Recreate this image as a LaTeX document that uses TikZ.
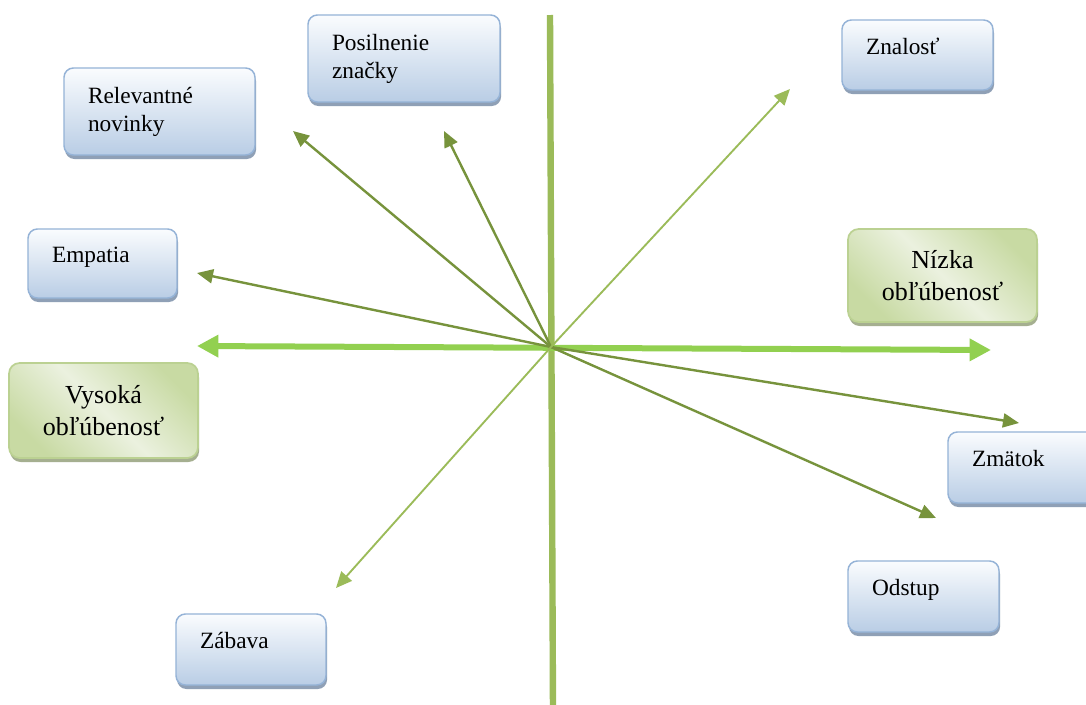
\documentclass[tikz,border=0pt]{standalone}
\usepackage{fontspec}
\setmainfont{Liberation Serif}
\usetikzlibrary{arrows.meta,shadows}
\definecolor{bBorder}{HTML}{95B3D7}
\definecolor{bTop}{HTML}{FAFCFE}
\definecolor{bBot}{HTML}{B9CDE5}
\definecolor{bShadow}{HTML}{8FA0B6}
\definecolor{gBorder}{HTML}{BBD192}
\definecolor{gLight}{HTML}{EBF1DF}
\definecolor{gDark}{HTML}{C8DAA3}
\definecolor{gShadow}{HTML}{A5AF90}
\definecolor{vAxis}{HTML}{9BBB59}
\definecolor{hAxis}{HTML}{92D050}
\definecolor{darkArr}{HTML}{77933C}
\definecolor{lightArr}{HTML}{9BBB59}
\tikzset{
  bluebox/.style={draw=bBorder, line width=1.1pt, rounded corners=7pt,
    top color=bTop, bottom color=bBot,
    drop shadow={shadow xshift=0.8pt, shadow yshift=-3pt, fill=bShadow, opacity=1},
    font=\fontsize{17.5}{21}\selectfont, align=left, inner xsep=18pt, inner ysep=0pt},
  oneline/.style={text height=12pt, text depth=13.2pt},
  greenbox/.style={draw=gBorder, line width=1.3pt, rounded corners=8pt,
    left color=gDark, right color=gDark, middle color=gLight, shading angle=135,
    drop shadow={shadow xshift=0.8pt, shadow yshift=-3pt, fill=gShadow, opacity=1},
    font=\fontsize{19.5}{23.5}\selectfont, align=center, inner xsep=6pt, inner ysep=0pt,
    text width=129.75pt},
  vaxisline/.style={draw=vAxis, line width=4.8pt},
  haxisline/.style={draw=hAxis, line width=4.5pt,
    {Triangle[length=16pt,width=16pt]}-{Triangle[length=16pt,width=16pt]}},
  darkarrow/.style={draw=darkArr, line width=1.8pt, -{Triangle[length=12pt,width=10.5pt]}},
  lightarrow/.style={draw=lightArr, line width=1.4pt, -{Triangle[length=12pt,width=10.5pt]}}
}
\begin{document}
\begin{tikzpicture}[x=0.75pt,y=-0.75pt]
\clip (0,0) rectangle (1086,704);
\fill[white] (0,0) rectangle (1086,704);

% boxes
\node[bluebox, text width=108pt, minimum height=65.25pt] (posil) at (404,58.5) {Posilnenie\\značky};
\node[bluebox, text width=107.25pt, minimum height=65.25pt] (relev) at (159.5,111.5) {Relevantné\\novinky};
\node[bluebox, oneline, text width=75.75pt, minimum height=51.75pt] (empat) at (102.5,263.5) {Empatia};
\node[bluebox, oneline, text width=77.25pt, minimum height=52.5pt] (znal) at (917.5,55) {Znalosť};
\node[bluebox, oneline, text width=76.5pt, minimum height=53.25pt] (zmat) at (1023,467.5) {Zmätok};
\node[bluebox, oneline, text width=77.25pt, minimum height=53.25pt] (odst) at (923.5,596.5) {Odstup};
\node[bluebox, oneline, text width=76.5pt, minimum height=53.25pt] (zab) at (251,649.5) {Zábava};
\node[greenbox, minimum height=69.75pt] (nizka) at (942.5,275.5) {Nízka\\obľúbenosť};
\node[greenbox, minimum height=71.25pt] (vysoka) at (103.5,410.5) {Vysoká\\obľúbenosť};

% coordinates
\coordinate (c) at (551,347);
\coordinate (vTop) at (550,15);
\coordinate (vBot) at (553,712);
\coordinate (hL) at (197,346);
\coordinate (hR) at (991,350);
\coordinate (tPosil) at (444,131);
\coordinate (tRelev) at (293,131);
\coordinate (tEmpat) at (197,273);
\coordinate (tZnal) at (790,89);
\coordinate (tZab) at (336,588);
\coordinate (tZmat) at (1019,423);
\coordinate (tOdst) at (936,518);

% axes
\draw[vaxisline] (vTop) -- (vBot);
\draw[haxisline] (hL) -- (hR);

% arrows
\draw[darkarrow] (c) -- (tPosil);
\draw[darkarrow] (c) -- (tRelev);
\draw[darkarrow] (c) -- (tEmpat);
\draw[darkarrow] (c) -- (tZmat);
\draw[darkarrow] (c) -- (tOdst);
\draw[lightarrow] (c) -- (tZnal);
\draw[lightarrow] (c) -- (tZab);
\end{tikzpicture}
\end{document}
